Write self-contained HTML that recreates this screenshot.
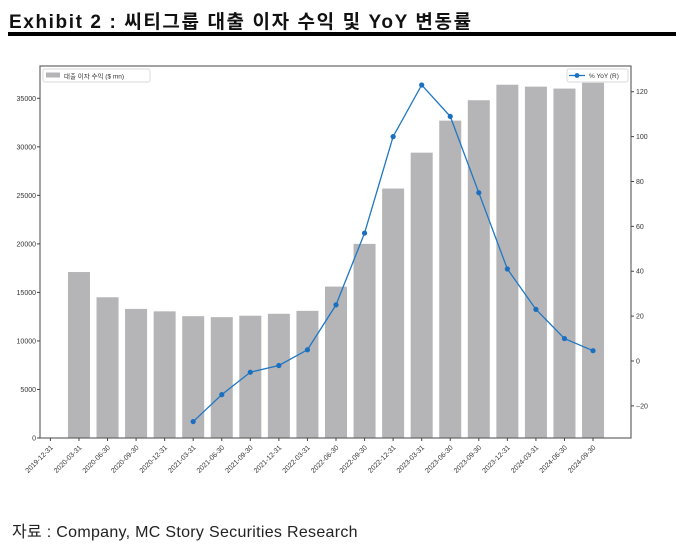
<!DOCTYPE html>
<html><head><meta charset="utf-8"><style>
body{margin:0;background:#fff;width:683px;height:549px;overflow:hidden;font-family:"Liberation Sans","Noto Sans CJK KR",sans-serif}
svg text{font-family:"Liberation Sans","Noto Sans CJK KR",sans-serif}
</style></head><body>
<div style="position:absolute;left:9px;top:7px;font-size:19px;letter-spacing:1.6px;font-weight:bold;color:#111;white-space:nowrap">Exhibit 2 : 씨티그룹 대출 이자 수익 및 YoY 변동률</div>
<div style="position:absolute;left:8px;top:32px;width:668px;height:4px;background:#000"></div>
<div style="position:absolute;left:12px;top:518px;font-size:16px;letter-spacing:0.3px;color:#222;white-space:nowrap">자료 : Company, MC Story Securities Research</div>
<svg id="chart" width="683" height="549" style="position:absolute;left:0;top:0"></svg>
<script>
const categories=["2019-12-31","2020-03-31","2020-06-30","2020-09-30","2020-12-31","2021-03-31","2021-06-30","2021-09-30","2021-12-31","2022-03-31","2022-06-30","2022-09-30","2022-12-31","2023-03-31","2023-06-30","2023-09-30","2023-12-31","2024-03-31","2024-06-30","2024-09-30"];
const loanIncome=[null,17100,14500,13300,13050,12550,12450,12600,12800,13100,15600,20000,25700,29400,32700,34800,36400,36200,36000,36600];
const yoy=[null,null,null,null,null,-27,-15,-5,-2,5,25,57,100,123,109,75,41,23,10,4.6];
const leftTicks=[0,5000,10000,15000,20000,25000,30000,35000];
const rightTicks=[-20,0,20,40,60,80,100,120];
const NS="http://www.w3.org/2000/svg";
const svg=document.getElementById('chart');
const L=40,R=631,T=66,B=438;
const x=i=>50.4+i*28.56;
const yL=v=>438-v*(339.7/35000);
const yR=v=>361-v*2.244;
function mk(tag,a,txt){const e=document.createElementNS(NS,tag);for(const k in a)e.setAttribute(k,a[k]);if(txt!=null)e.textContent=txt;svg.appendChild(e);return e;}
loanIncome.forEach((v,i)=>{if(v==null)return;
const r=mk('rect',{x:x(i)-11,y:yL(v),width:22,height:B-yL(v),fill:'#b5b5b7'});

});
const fr=mk('rect',{x:L,y:T,width:R-L,height:B-T,fill:'none',stroke:'#666','stroke-width':1.2});


leftTicks.forEach(v=>{mk('line',{x1:L-3,x2:L,y1:yL(v),y2:yL(v),stroke:'#444'});
const t=mk('text',{x:L-4,y:yL(v)+2.5,'font-size':7,'text-anchor':'end',fill:'#333'},v);

});
rightTicks.forEach(v=>{mk('line',{x1:R,x2:R+3,y1:yR(v),y2:yR(v),stroke:'#444'});
const t=mk('text',{x:R+5,y:yR(v)+2.5,'font-size':7,fill:'#333'},v<0?'\u221220':v);

});
categories.forEach((c,i)=>{mk('line',{x1:x(i),x2:x(i),y1:B,y2:B+3,stroke:'#444'});
const t=mk('text',{x:x(i)+3,y:B+10,'font-size':7,'text-anchor':'end',fill:'#333',transform:`rotate(-45 ${x(i)+3} ${B+10})`},c);

});
let pts=[];yoy.forEach((v,i)=>{if(v!=null)pts.push([x(i),yR(v)]);});
const pl=mk('polyline',{points:pts.map(p=>p.join(',')).join(' '),fill:'none',stroke:'#1f77c4','stroke-width':1.3});


pts.forEach(p=>{const c=mk('circle',{cx:p[0],cy:p[1],r:2.6,fill:'#1a6fc0'});

});
const lg1=mk('rect',{x:43,y:69,width:107,height:13,fill:'#fff',stroke:'#ccc','stroke-width':0.7,rx:2});


mk('rect',{x:46,y:72.5,width:14,height:5,fill:'#b5b5b7'});
mk('text',{x:64,y:78.5,'font-size':6.5,fill:'#333'},'대출 이자 수익 ($ mn)');
const lg2=mk('rect',{x:567,y:69,width:61,height:13,fill:'#fff',stroke:'#ccc','stroke-width':0.7,rx:2});


mk('line',{x1:569,x2:585,y1:75.5,y2:75.5,stroke:'#1f77c4','stroke-width':1.3});
mk('circle',{cx:577,cy:75.5,r:2.4,fill:'#1a6fc0'});
mk('text',{x:589,y:78,'font-size':6.5,fill:'#333'},'% YoY (R)');
</script>
</body></html>
